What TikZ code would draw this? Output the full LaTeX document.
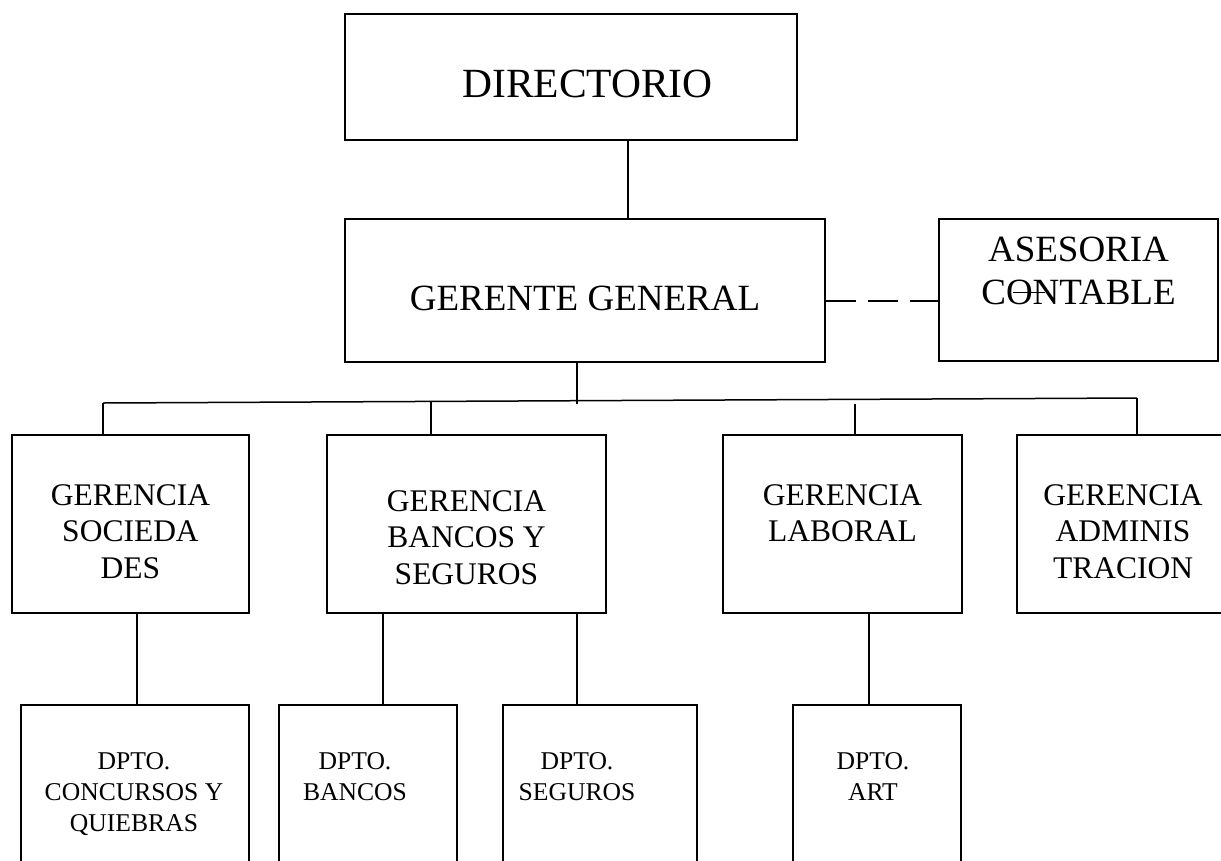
\documentclass[tikz,border=0pt]{standalone}
\usepackage{fontspec}
\setmainfont{Liberation Serif}
\usetikzlibrary{calc}
\tikzset{
  box/.style={draw, rectangle, inner sep=0pt, line width=1.3pt},
  conn/.style={line width=1.3pt},
  dashconn/.style={line width=1.3pt, dash pattern=on 30pt off 12pt},
  bigtxt/.style={inner sep=0pt, font=\fontsize{41.5}{46}\selectfont},
  midtxt/.style={inner sep=0pt, align=center, font=\fontsize{37}{43}\selectfont},
  gertxt/.style={inner sep=0pt, align=center, anchor=north, font=\fontsize{31.5}{36.5}\selectfont},
  dptxt/.style={inner sep=0pt, align=center, anchor=north, font=\fontsize{25.6}{31}\selectfont},
}
\begin{document}
\begin{tikzpicture}[x=1pt,y=-1pt]
\useasboundingbox (0,0) rectangle (1221,860);
\clip (0,0) rectangle (1221,860);
% top level boxes
\node[box, minimum width=452pt, minimum height=126pt] (dir) at (571,77) {};
\node[bigtxt, anchor=base] (tdir) at (587.5,97) {DIRECTORIO};
\node[box, minimum width=480pt, minimum height=143pt] (gg) at (585,290.5) {};
\node[midtxt, anchor=base] (tgg) at (585,310) {GERENTE GENERAL};
\node[box, minimum width=279pt, minimum height=142pt] (ase) at (1078.5,290) {};
\node[midtxt, anchor=north] (tase) at (1078.5,237.2) {ASESORIA\\CONTABLE};
% gerencias
\node[box, minimum width=237pt, minimum height=178pt] (soc) at (130.5,524) {};
\node[gertxt] (tsoc) at (130.5,484) {GERENCIA\\SOCIEDA\\DES};
\node[box, minimum width=279pt, minimum height=178pt] (ban) at (466.5,524) {};
\node[gertxt] (tban) at (466.5,490) {GERENCIA\\BANCOS Y\\SEGUROS};
\node[box, minimum width=239pt, minimum height=178pt] (lab) at (842.5,524) {};
\node[gertxt] (tlab) at (842.5,484) {GERENCIA\\LABORAL};
\node[box, minimum width=212pt, minimum height=178pt] (adm) at (1123,524) {};
\node[gertxt] (tadm) at (1123,484) {GERENCIA\\ADMINIS\\TRACION};
% departamentos
\node[box, minimum width=228pt, minimum height=195pt] (dcon) at (135,802.5) {};
\node[dptxt] (tdcon) at (134,752.8) {DPTO.\\CONCURSOS Y\\QUIEBRAS};
\node[box, minimum width=178pt, minimum height=195pt] (dban) at (368,802.5) {};
\node[dptxt] (tdban) at (355,752.8) {DPTO.\\BANCOS};
\node[box, minimum width=194pt, minimum height=195pt] (dseg) at (600,802.5) {};
\node[dptxt] (tdseg) at (577,752.8) {DPTO.\\SEGUROS};
\node[box, minimum width=168pt, minimum height=195pt] (dart) at (877,802.5) {};
\node[dptxt] (tdart) at (873,752.8) {DPTO.\\ART};
% connectors
\draw[conn] ([xshift=57pt]dir.south) -- ([xshift=57pt]dir.south |- gg.north);
\coordinate (dst) at ($(gg.east)+(0,10.5)$);
\draw[dashconn] (dst) -- (dst -| ase.west);
\draw[line width=1pt] (1013,292) -- (1045,292);
\coordinate (bL) at (103,403);
\coordinate (bR) at (1137,398);
\coordinate (b2) at (431,401.4);
\coordinate (b3) at (855,404);
\draw[conn] ([xshift=-8pt]gg.south) -- ++(0,41);
\draw[line width=1.5pt] (bL) -- (bR);
\draw[conn] (bL) -- (bL |- soc.north);
\draw[conn] (b2) -- (b2 |- ban.north);
\draw[conn] (b3) -- (b3 |- lab.north);
\draw[conn] (bR) -- (bR |- adm.north);
\draw[conn] ([xshift=6.5pt]soc.south) -- ([xshift=6.5pt]soc.south |- dcon.north);
\draw[conn] ([xshift=-83.5pt]ban.south) -- ([xshift=-83.5pt]ban.south |- dban.north);
\draw[conn] ([xshift=110.5pt]ban.south) -- ([xshift=110.5pt]ban.south |- dseg.north);
\draw[conn] ([xshift=26.5pt]lab.south) -- ([xshift=26.5pt]lab.south |- dart.north);
\end{tikzpicture}
\end{document}
